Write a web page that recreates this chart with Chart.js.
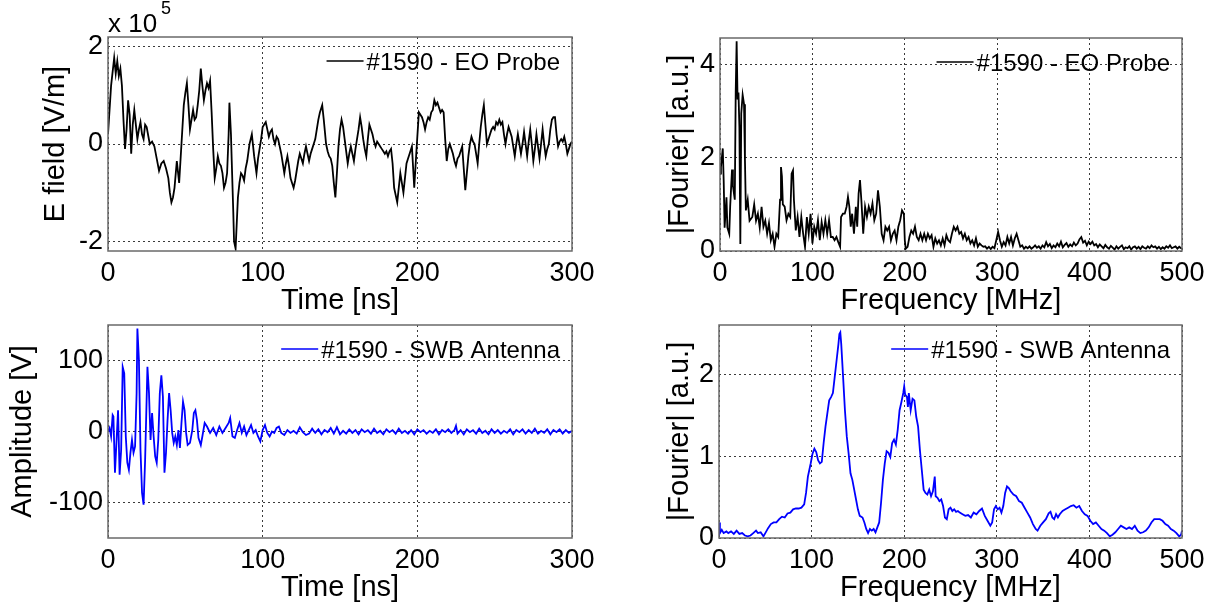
<!DOCTYPE html>
<html>
<head>
<meta charset="utf-8">
<script src="https://cdn.jsdelivr.net/npm/chart.js@4.4.0/dist/chart.umd.min.js"></script>
<style>
body { margin: 0; background: #fff; width: 1225px; height: 613px; overflow: hidden; position: relative; }
canvas { position: absolute; }
</style>
</head>
<body>
<canvas id="eoTimeChart" width="612" height="325" style="left:0;top:0"></canvas>
<canvas id="eoFreqChart" width="613" height="325" style="left:612px;top:0"></canvas>
<canvas id="swbTimeChart" width="612" height="313" style="left:0;top:300px"></canvas>
<canvas id="swbFreqChart" width="613" height="313" style="left:612px;top:300px"></canvas>
<script>
// EO probe, time domain (E field in units of 1e5 V/m)
var eoTime = [0, 2, 4, 5, 6, 7, 8, 9, 10, 11,
  12, 13, 14, 15, 16, 17, 18, 19, 20, 21,
  22, 23, 24, 25, 27, 28.5, 30, 31.5, 33, 34.5,
  36, 37.5, 39, 40, 41, 42, 43, 44.5, 46, 47.5,
  49, 50, 51, 52, 53, 54, 55, 56, 57, 58,
  59, 60, 61, 62, 63, 64, 65, 66, 67, 68,
  69, 70, 71, 72, 73, 74, 75, 76, 77, 78,
  78.5, 79.5, 80, 81, 81.5, 82.5, 83, 84, 85, 86,
  87, 88, 89, 90, 91.5, 93, 94.5, 96, 97, 98,
  99, 100, 101, 102, 103, 104, 105, 106, 107, 108,
  109, 110, 111, 112, 113, 114, 115, 116, 117, 118,
  119, 120, 121, 122, 123, 124, 125, 126, 127, 128,
  129, 130, 131, 132, 133, 134, 135, 136, 137, 138.5,
  139.5, 141, 142, 143, 144, 145, 146, 147, 148, 149,
  150, 151, 152, 153, 154, 155, 156, 157, 158, 159,
  160, 161, 162, 163, 164, 165, 166, 167, 168, 169,
  170, 171, 172, 173, 174, 175, 176, 177, 178, 179,
  180, 181, 182, 183, 184, 185, 186, 187, 188, 189,
  190, 191, 192, 193, 194, 195, 196.5, 198, 199.5, 201,
  202, 203, 204, 205, 206, 207, 208, 209, 210, 211,
  212, 213, 214, 215, 216, 217, 218, 219, 220, 221,
  222, 223, 224, 225, 226, 227, 228, 229, 230, 231,
  232, 233, 234, 235, 236, 237, 238, 239, 240, 241,
  242, 243, 244, 245, 246, 247, 248, 249, 250, 251,
  252, 253, 254, 255, 256, 257, 258, 259, 260, 261,
  262, 263, 264, 265, 266, 267, 268, 269, 270, 271,
  272, 273, 274, 275, 276, 277, 278, 279, 280, 281,
  282, 283, 284, 285, 286, 287, 288, 289, 290, 291,
  292, 293, 294, 295, 296, 297, 298, 299, 300];
var eoField = [0.2, 1.2, 1.77, 1.45, 1.7, 1.4, 1.55, 1.2, 0.5, -0.1,
  0.3, 0.9, 0.6, -0.2, 0.4, 0.7, 0.4, 0.1, 0.3, 0.45,
  0.2, 0.1, 0.4, 0.35, 0.0, 0.05, -0.05, -0.3, -0.55, -0.4,
  -0.35, -0.5, -0.7, -1.0, -1.2, -1.1, -0.9, -0.35, -0.8, 0.0,
  0.8, 1.05, 1.25, 0.8, 0.3, 0.5, 0.7, 0.5, 0.55, 0.8,
  1.1, 1.55, 1.2, 0.9, 1.1, 1.25, 1.15, 1.3, 0.65, -0.1,
  -0.7, -0.5, -0.25, -0.4, -0.45, -0.6, -0.9, -0.8, -0.6, 0.2,
  0.85, 0.2, -0.35, -1.4, -2.0, -2.15, -1.8, -1.1, -0.8, -0.6,
  -0.65, -0.75, -0.5, -0.35, 0.0, 0.2, -0.25, -0.6, -0.3, -0.1,
  0.1, 0.35, 0.4, 0.45, 0.3, 0.15, 0.25, 0.3, 0.1, 0.0,
  0.15, 0.1, -0.05, -0.2, -0.4, -0.6, -0.4, -0.25, -0.45, -0.7,
  -0.8, -0.9, -0.75, -0.55, -0.35, -0.2, -0.3, -0.4, -0.2, -0.05,
  -0.2, -0.35, -0.2, -0.1, 0.0, 0.1, 0.3, 0.5, 0.65, 0.8,
  0.5, 0.0, -0.15, -0.25, -0.3, -0.45, -0.8, -1.1, -0.6, -0.05,
  0.3, 0.5, 0.35, 0.1, -0.15, -0.4, -0.2, -0.05, -0.2, -0.35,
  -0.1, 0.1, 0.3, 0.55, 0.35, 0.1, -0.1, -0.25, 0.1, 0.4,
  0.3, 0.2, 0.05, -0.05, 0.05, 0.0, -0.05, -0.1, -0.15, -0.2,
  -0.15, -0.25, -0.15, -0.1, -0.4, -0.9, -1.05, -1.2, -0.9, -0.6,
  -0.8, -1.0, -0.7, -0.4, -0.3, -0.2, -0.05, -0.9, -0.1, 0.65,
  0.6, 0.55, 0.45, 0.3, 0.45, 0.55, 0.5, 0.65, 0.7, 0.9,
  0.8, 0.85, 0.75, 0.65, 0.7, 0.65, 0.1, -0.35, -0.1, 0.0,
  -0.1, -0.2, -0.35, -0.45, -0.3, -0.25, -0.15, -0.05, -0.5, -0.95,
  -0.6, -0.25, 0.0, 0.15, 0.05, 0.0, -0.2, -0.4, 0.0, 0.35,
  0.6, 0.8, 0.4, 0.0, 0.1, 0.2, 0.3, 0.35, 0.3, 0.45,
  0.4, 0.5, 0.4, 0.45, 0.2, 0.0, 0.2, 0.35, 0.25, 0.15,
  -0.05, -0.25, 0.0, 0.2, 0.0, -0.2, 0.0, 0.25, 0.0, -0.25,
  0.05, 0.3, 0.0, -0.35, -0.1, 0.2, -0.05, -0.3, 0.0, 0.3,
  0.0, -0.25, -0.1, 0.0, 0.3, 0.5, 0.55, 0.55, 0.2, -0.05,
  0.05, 0.1, 0.05, 0.15, 0.0, -0.2, -0.1, 0.0, 0.05];

// EO probe, spectrum
var eoFreq = [0, 1, 3, 4, 5, 7, 8, 10, 11, 13,
  14, 16, 17, 18, 19, 20, 21, 22, 23, 24.5,
  26, 27, 28, 30, 32, 35, 37, 39, 41, 43,
  45, 47, 49, 51, 53, 55, 57, 59, 61, 63,
  65, 66, 67, 68, 70, 72, 74, 76, 77.5, 79,
  80, 82, 84, 86, 88, 90, 92, 94, 96, 98,
  100, 102, 104, 106, 108, 110, 112, 114, 116, 118,
  120, 122, 124, 126, 128, 130, 131, 133, 135, 137,
  138.5, 140, 141.5, 143, 145, 147, 148.5, 150, 151.5, 153,
  155, 157, 159, 161, 163, 165, 167, 169, 171, 173,
  175, 177, 179, 181, 183, 185, 187, 189, 191, 193,
  195, 197, 199, 200, 201, 203, 205, 207, 209, 211,
  213, 215, 217, 219, 221, 223, 225, 227, 229, 231,
  233, 235, 237, 239, 241, 243, 245, 247, 249, 251,
  253, 255, 257, 259, 261, 263, 265, 267, 269, 271,
  273, 275, 277, 279, 281, 283, 285, 287, 289, 291,
  293, 295, 297, 299, 301, 303, 305, 307, 309, 311,
  313, 315, 317, 319, 321, 323, 325, 327, 329, 331,
  333, 335, 337, 339, 341, 343, 345, 347, 349, 351,
  353, 355, 357, 359, 361, 363, 365, 367, 369, 371,
  373, 375, 377, 379, 381, 383, 385, 387, 389, 391,
  393, 395, 397, 399, 401, 403, 405, 407, 409, 411,
  413, 415, 417, 419, 421, 423, 425, 427, 429, 431,
  433, 435, 437, 439, 441, 443, 445, 447, 449, 451,
  453, 455, 457, 459, 461, 463, 465, 467, 469, 471,
  473, 475, 477, 479, 481, 483, 485, 487, 489, 491,
  493, 495, 497, 499, 500];
var eoFourier = [1.66, 1.8, 2.2, 1.5, 0.5, 1.15, 0.5, 0.37, 0.95, 1.75,
  1.4, 1.1, 3.4, 4.5, 3.25, 3.4, 2.65, 0.15, 2.95, 3.35,
  3.15, 1.95, 0.87, 1.1, 0.65, 0.73, 1.0, 0.65, 0.8, 0.5,
  0.95, 0.52, 0.65, 0.37, 0.6, 0.23, 0.37, 0.09, 0.37, 0.3,
  1.1, 1.8, 1.6, 1.0, 0.95, 0.66, 0.8, 0.73, 1.66, 1.73,
  1.1, 0.44, 0.73, 0.3, 0.73, 0.37, 0.09, 0.73, 0.37, 0.8,
  0.16, 0.52, 0.37, 0.66, 0.23, 0.62, 0.37, 0.66, 0.37, 0.66,
  0.3, 0.3, 0.23, 0.3, 0.19, 0.09, 0.73, 0.8, 0.8, 0.95,
  1.16, 0.95, 0.52, 0.8, 0.37, 0.95, 0.52, 1.23, 1.52, 1.09,
  0.37, 0.95, 0.73, 0.95, 0.8, 1.02, 0.66, 0.8, 1.3, 0.95,
  0.37, 0.23, 0.52, 0.44, 0.52, 0.23, 0.37, 0.44, 0.23, 0.52,
  0.66, 0.87, 0.8, 0.23, 0.05, 0.09, 0.3, 0.44, 0.37, 0.52,
  0.3, 0.23, 0.37, 0.23, 0.37, 0.23, 0.37, 0.27, 0.34, 0.09,
  0.27, 0.16, 0.23, 0.12, 0.27, 0.12, 0.34, 0.23, 0.19, 0.37,
  0.52, 0.44, 0.52, 0.37, 0.41, 0.27, 0.37, 0.23, 0.3, 0.16,
  0.23, 0.12, 0.27, 0.09, 0.16, 0.12, 0.09, 0.1, 0.05, 0.09,
  0.04, 0.09, 0.06, 0.23, 0.41, 0.23, 0.09, 0.19, 0.12, 0.3,
  0.16, 0.3, 0.12, 0.27, 0.37, 0.23, 0.09, 0.12, 0.05, 0.09,
  0.06, 0.1, 0.05, 0.08, 0.12, 0.07, 0.1, 0.05, 0.12, 0.08,
  0.19, 0.1, 0.15, 0.06, 0.12, 0.08, 0.16, 0.1, 0.2, 0.08,
  0.13, 0.17, 0.09, 0.14, 0.1, 0.18, 0.12, 0.16, 0.25, 0.3,
  0.18, 0.22, 0.12, 0.2, 0.15, 0.2, 0.12, 0.15, 0.08, 0.14,
  0.1, 0.06, 0.13, 0.08, 0.05, 0.11, 0.07, 0.03, 0.1, 0.05,
  0.09, 0.12, 0.04, 0.08, 0.06, 0.1, 0.03, 0.08, 0.1, 0.05,
  0.09, 0.04, 0.1, 0.07, 0.05, 0.1, 0.06, 0.12, 0.08, 0.1,
  0.05, 0.09, 0.04, 0.08, 0.05, 0.1, 0.07, 0.12, 0.06, 0.08,
  0.1, 0.05, 0.09, 0.06, 0.05];

// SWB antenna, time domain (V)
var swbTime = [0, 1, 2, 3, 3.5, 4.5, 5.5, 6.5, 7.5, 8.5,
  9.5, 10.5, 11.5, 12.5, 13.5, 14.5, 15.5, 16.5, 17.5, 18.5,
  19, 20, 21, 22, 23, 24, 25.5, 26.5, 27.5, 28.5,
  29.5, 30.5, 31.5, 32.5, 33.5, 34.5, 35.5, 36.5, 37.5, 38.5,
  39.5, 40.5, 41.5, 42.5, 43.5, 44.5, 45.5, 46.5, 47.5, 48.5,
  49.5, 50.5, 51.5, 53, 54.5, 55.5, 56.5, 57.5, 58.5, 60,
  61, 62.5, 64, 66, 68, 70, 72, 74, 76, 78,
  79, 80.5, 82, 83.5, 85, 86.5, 88, 89.5, 91, 92.5,
  94, 95.5, 97, 98.5, 100, 101.5, 103, 104.5, 106, 107.5,
  109, 110.5, 112, 114, 116, 118, 120, 122, 124, 126,
  128, 130, 132, 134, 136, 138, 140, 142, 144, 146,
  148, 150, 152, 154, 156, 158, 160, 162, 164, 166,
  168, 170, 172, 174, 176, 178, 180, 182, 184, 186,
  188, 190, 192, 194, 196, 198, 200, 202, 204, 206,
  208, 210, 212, 214, 216, 218, 220, 222, 224, 225,
  226, 228, 230, 232, 234, 236, 238, 240, 242, 244,
  246, 248, 250, 252, 254, 256, 258, 260, 262, 264,
  266, 268, 270, 272, 274, 276, 278, 280, 282, 284,
  286, 288, 290, 292, 294, 296, 298, 300];
var swbAmplitude = [0, 5, -7, 23, 21, -58, -14, 30, -61, -26,
  91, 82, -7, -44, -54, -30, -12, -30, -21, 54,
  145, 100, -26, -86, -103, -40, 91, 54, -12, 26,
  -7, -35, -44, -12, 54, 79, 49, -58, -30, 16,
  54, 30, -2, -16, -7, -19, 2, -23, 12, 42,
  30, -2, -19, -16, 2, 26, 30, 16, -9, -19,
  -7, 12, 7, -2, 5, -5, 7, -2, 5, 12,
  19, -7, -9, 2, 12, -2, 7, -5, 2, 9,
  -2, 2, -7, -14, 2, 9, -2, -7, 0, -2,
  5, 7, -2, -5, 2, -2, 1, -3, 6, -1,
  -5, -3, 4, -2, 3, -4, 2, -1, 5, -3,
  6, -4, 1, -3, 3, -2, 2, -4, 3, -1,
  2, -3, 4, -2, 1, -4, 3, -1, 2, -3,
  4, -2, 1, -3, 2, -4, 3, -1, 2, -3,
  1, -2, 3, -4, 2, -1, 3, -2, 2, 8,
  -3, 2, -4, 3, -1, 2, -3, 4, -2, 1,
  -4, 3, -2, 2, -3, 1, -2, 3, -4, 2,
  -1, 3, -3, 2, -2, 4, -3, 1, -2, 3,
  -4, 2, -1, 3, -3, 2, -2, 1];

// SWB antenna, spectrum
var swbFreq = [0, 1, 3, 5, 8, 10, 13, 16, 19, 22,
  25, 28, 31, 34, 37, 40, 42, 45, 48, 50,
  53, 56, 59, 62, 65, 68, 71, 74, 77, 80,
  83, 86, 89, 92, 94, 96, 99, 101, 103, 105,
  107, 109, 111, 113, 115, 117, 119, 121, 123, 125,
  127, 129, 130, 131, 132, 134, 136, 138, 140, 142,
  144, 146, 148, 150, 152, 155, 157, 159, 161, 163,
  165, 167, 169, 171, 173, 175, 177, 179, 181, 183,
  185, 187, 189, 191, 193, 195, 197, 199, 200, 201,
  203, 204, 205, 207, 209, 211, 213, 215, 217, 219,
  221, 223, 225, 227, 229, 231, 233, 234, 236, 238,
  240, 242, 244, 246, 248, 250, 252, 254, 256, 258,
  260, 263, 266, 269, 272, 275, 278, 281, 284, 287,
  290, 293, 295, 297, 299, 301, 303, 305, 307, 309,
  311, 313, 315, 318, 321, 324, 327, 330, 333, 336,
  339, 342, 344, 347, 350, 353, 356, 358, 360, 362,
  364, 366, 368, 371, 374, 377, 380, 383, 386, 389,
  392, 395, 398, 401, 404, 407, 410, 413, 416, 419,
  422, 425, 428, 431, 434, 437, 440, 443, 446, 449,
  452, 455, 458, 461, 464, 467, 470, 473, 476, 479,
  482, 485, 488, 491, 494, 497, 499, 500];
var swbFourier = [0.19, 0.06, 0.1, 0.06, 0.08, 0.06, 0.08, 0.05, 0.09, 0.05,
  0.06, 0.03, 0.02, 0.03, 0.06, 0.09, 0.06, 0.07, 0.02, 0.06,
  0.12, 0.17, 0.19, 0.19, 0.23, 0.26, 0.25, 0.3, 0.31, 0.35,
  0.36, 0.36, 0.37, 0.41, 0.55, 0.75, 0.91, 1.03, 1.09, 1.05,
  0.95, 0.91, 0.93, 1.16, 1.36, 1.52, 1.68, 1.72, 1.77, 1.97,
  2.17, 2.37, 2.49, 2.51, 2.37, 1.97, 1.56, 1.24, 1.03, 0.79,
  0.71, 0.59, 0.47, 0.35, 0.27, 0.25, 0.19, 0.11, 0.06, 0.11,
  0.09, 0.11, 0.07, 0.13, 0.19, 0.43, 0.71, 0.91, 1.06, 1.04,
  0.99, 1.16, 1.2, 1.14, 1.32, 1.56, 1.66, 1.77, 1.85, 1.75,
  1.72, 1.6, 1.77, 1.56, 1.7, 1.68, 1.48, 1.36, 1.07, 0.83,
  0.59, 0.55, 0.53, 0.59, 0.51, 0.57, 0.75, 0.51, 0.49, 0.45,
  0.47, 0.39, 0.25, 0.23, 0.35, 0.37, 0.33, 0.35, 0.32, 0.33,
  0.31, 0.29, 0.27, 0.28, 0.25, 0.31, 0.29, 0.33, 0.36, 0.27,
  0.21, 0.15, 0.19, 0.35, 0.39, 0.35, 0.37, 0.31, 0.39, 0.55,
  0.63, 0.61, 0.57, 0.53, 0.51, 0.45, 0.43, 0.37, 0.31, 0.25,
  0.17, 0.11, 0.09, 0.15, 0.19, 0.23, 0.3, 0.32, 0.25, 0.23,
  0.29, 0.25, 0.29, 0.33, 0.35, 0.37, 0.39, 0.4, 0.37, 0.39,
  0.33, 0.29, 0.27, 0.21, 0.17, 0.19, 0.15, 0.11, 0.09, 0.06,
  0.02, 0.04, 0.07, 0.11, 0.15, 0.13, 0.11, 0.13, 0.11, 0.15,
  0.09, 0.06, 0.07, 0.09, 0.13, 0.19, 0.23, 0.23, 0.23, 0.21,
  0.17, 0.15, 0.11, 0.09, 0.06, 0.02, 0.04, 0.09];

// tick labels
var timeTicks = [0, 100, 200, 300];
var freqTicks = [0, 100, 200, 300, 400, 500];
var eoFieldTicks = [-2, 0, 2];
var eoFourierTicks = [0, 2, 4];
var swbAmpTicks = [-100, 0, 100];
var swbFourierTicks = [0, 1, 2];

var FONT = '"Liberation Sans", Arial, Helvetica, sans-serif';

// full box round the plot area, like matlab "box on"
var boxPlugin = {
    id: 'box',
    afterDatasetsDraw: function(chart) {
        var a = chart.chartArea, ctx = chart.ctx;
        ctx.save();
        ctx.strokeStyle = '#6a6a6a';
        ctx.lineWidth = 1.5;
        ctx.strokeRect(a.left, a.top, a.right - a.left, a.bottom - a.top);
        ctx.restore();
    }
};

// legend drawn inside the axes, no frame
var lineLegend = {
    id: 'lineLegend',
    afterDraw: function(chart) {
        var a = chart.chartArea, ctx = chart.ctx;
        var ds = chart.data.datasets[0];
        ctx.save();
        ctx.font = '24px ' + FONT;
        var w = ctx.measureText(ds.label).width;
        var xr = a.right - 12;
        var y = a.top + 26;
        ctx.strokeStyle = ds.borderColor;
        ctx.lineWidth = 1.5;
        ctx.beginPath();
        ctx.moveTo(xr - w - 40, y - 2);
        ctx.lineTo(xr - w - 3, y - 2);
        ctx.stroke();
        ctx.fillStyle = '#000';
        ctx.textBaseline = 'middle';
        ctx.textAlign = 'left';
        ctx.fillText(ds.label, xr - w, y);
        ctx.restore();
    }
};

// "x 10^5" multiplier above the first axes
var expPlugin = {
    id: 'expLabel',
    afterDraw: function(chart) {
        if (chart.canvas.id !== 'eoTimeChart') return;
        var ctx = chart.ctx;
        ctx.save();
        ctx.fillStyle = '#000';
        ctx.textBaseline = 'alphabetic';
        ctx.font = '26px ' + FONT;
        ctx.fillText('x 10', 108, 32);
        ctx.font = '18px ' + FONT;
        ctx.fillText('5', 161, 14);
        ctx.restore();
    }
};

function fixTicks(list) {
    return function(scale) {
        scale.ticks = list.map(function(v) { return { value: v }; });
    };
}

function makePanel(id, xs, ys, label, colour, p) {
    var pts = xs.map(function(x, i) { return { x: x, y: ys[i] }; });
    var grid = { color: '#3a3a3a', lineWidth: 1, drawTicks: false };
    return new Chart(document.getElementById(id), {
        type: 'line',
        data: {
            datasets: [{
                label: label,
                data: pts,
                borderColor: colour,
                borderWidth: 1.8,
                pointRadius: 0,
                tension: 0,
                fill: false
            }]
        },
        options: {
            responsive: false,
            animation: false,
            events: [],
            layout: { padding: { left: 0, top: p.top, right: p.right, bottom: 0 } },
            plugins: { legend: { display: false }, tooltip: { enabled: false } },
            scales: {
                x: {
                    type: 'linear',
                    min: p.xMin,
                    max: p.xMax,
                    afterBuildTicks: fixTicks(p.xTicks),
                    afterFit: function(s) { s.height = p.xBand; },
                    grid: grid,
                    border: { display: false, dash: [2, 3] },
                    ticks: { autoSkip: false, maxRotation: 0, padding: 6, color: '#000', font: { family: FONT, size: 27 } },
                    title: { display: true, text: p.xTitle, color: '#000', font: { family: FONT, size: 29 }, padding: { top: 0, bottom: p.xTitlePad } }
                },
                y: {
                    type: 'linear',
                    min: p.yMin,
                    max: p.yMax,
                    afterBuildTicks: fixTicks(p.yTicks),
                    afterFit: function(s) { s.width = p.yBand; },
                    grid: grid,
                    border: { display: false, dash: [2, 3] },
                    ticks: { autoSkip: false, padding: 5, color: '#000', font: { family: FONT, size: 27 } },
                    title: { display: true, text: p.yTitle, color: '#000', font: { family: FONT, size: 29 }, padding: { top: p.yTitlePad, bottom: 0 } }
                }
            }
        },
        plugins: [boxPlugin, lineLegend, expPlugin]
    });
}

makePanel('eoTimeChart', eoTime, eoField, '#1590 - EO Probe', '#000000', {
    top: 37, right: 40, xBand: 74, yBand: 108, xTitlePad: 7, yTitlePad: 38.6,
    xMin: 0, xMax: 300, xTicks: timeTicks, xTitle: 'Time [ns]',
    yMin: -2.2, yMax: 2.2, yTicks: eoFieldTicks, yTitle: 'E field [V/m]'
});
makePanel('eoFreqChart', eoFreq, eoFourier, '#1590 - EO Probe', '#000000', {
    top: 38, right: 43, xBand: 74, yBand: 108, xTitlePad: 7, yTitlePad: 50.6,
    xMin: 0, xMax: 500, xTicks: freqTicks, xTitle: 'Frequency [MHz]',
    yMin: 0, yMax: 4.57, yTicks: eoFourierTicks, yTitle: '|Fourier| [a.u.]'
});
makePanel('swbTimeChart', swbTime, swbAmplitude, '#1590 - SWB Antenna', '#0000ff', {
    top: 25, right: 40, xBand: 75, yBand: 108, xTitlePad: 8, yTitlePad: 5.6,
    xMin: 0, xMax: 300, xTicks: timeTicks, xTitle: 'Time [ns]',
    yMin: -150, yMax: 150, yTicks: swbAmpTicks, yTitle: 'Amplitude [V]'
});
makePanel('swbFreqChart', swbFreq, swbFourier, '#1590 - SWB Antenna', '#0000ff', {
    top: 25, right: 43, xBand: 75, yBand: 107, xTitlePad: 8, yTitlePad: 50.6,
    xMin: 0, xMax: 500, xTicks: freqTicks, xTitle: 'Frequency [MHz]',
    yMin: 0, yMax: 2.6, yTicks: swbFourierTicks, yTitle: '|Fourier| [a.u.]'
});
</script>
</body>
</html>
